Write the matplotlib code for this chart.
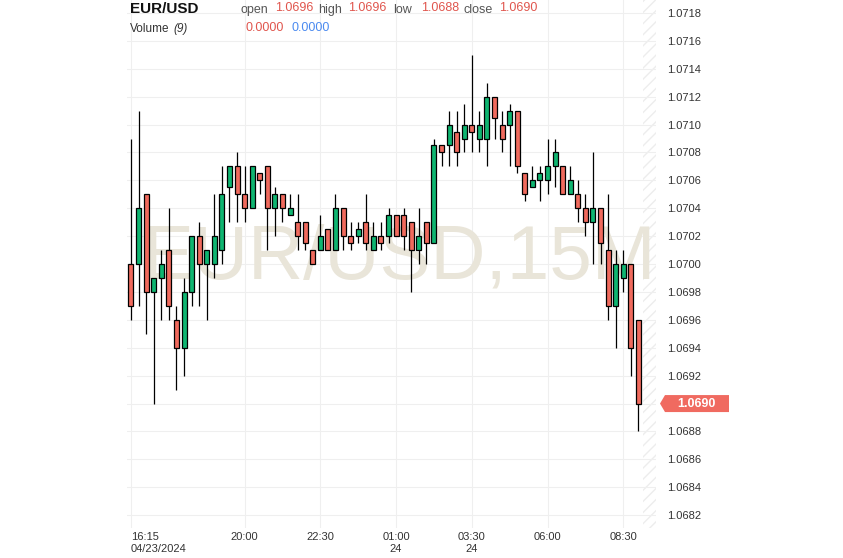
import matplotlib.pyplot as plt
from matplotlib.patches import Polygon
from matplotlib.transforms import IdentityTransform
import numpy as np

plt.rcParams['font.family'] = ['Liberation Sans', 'DejaVu Sans']

# EUR/USD 15 minute candles, 04/23 16:15 -> 04/24 09:00
opens = [1.0700, 1.0700, 1.0705, 1.0698, 1.0699, 1.0701, 1.0696, 1.0694, 1.0698, 1.0702,
         1.0700, 1.0700, 1.0701, 1.07055, 1.0707, 1.0705, 1.0704, 1.07065, 1.0707, 1.0704,
         1.0705, 1.07035, 1.0703, 1.0703, 1.0701, 1.0701, 1.07025, 1.0701, 1.0704, 1.0702,
         1.0702, 1.0703, 1.0701, 1.0702, 1.0702, 1.07035, 1.07035, 1.0703, 1.0701, 1.0703,
         1.07015, 1.07085, 1.07085, 1.07095, 1.0709, 1.0710, 1.0709, 1.0709, 1.0712, 1.0710,
         1.0710, 1.0711, 1.07065, 1.07055, 1.0706, 1.0706, 1.0707, 1.0707, 1.0705, 1.0705,
         1.0704, 1.0703, 1.0704, 1.0701, 1.0697, 1.0699, 1.0700, 1.0696]
highs = [1.0709, 1.0711, 1.0705, 1.0699, 1.0701, 1.0704, 1.0697, 1.0699, 1.0702, 1.0703,
         1.0701, 1.0705, 1.0707, 1.0707, 1.0708, 1.0707, 1.0707, 1.07065, 1.0707, 1.07055,
         1.0705, 1.0705, 1.0705, 1.0703, 1.0701, 1.07035, 1.07025, 1.0705, 1.0704, 1.0703,
         1.0703, 1.0705, 1.0703, 1.0703, 1.0704, 1.07035, 1.0704, 1.0703, 1.0704, 1.0703,
         1.0709, 1.07085, 1.0711, 1.0711, 1.07115, 1.0715, 1.0711, 1.0713, 1.0712, 1.0711,
         1.07115, 1.0711, 1.07065, 1.0707, 1.0707, 1.0709, 1.0709, 1.0707, 1.0707, 1.0706,
         1.0705, 1.0708, 1.0704, 1.0705, 1.0701, 1.0701, 1.0700, 1.0696]
lows = [1.0696, 1.0697, 1.0695, 1.0690, 1.0696, 1.0696, 1.0691, 1.0692, 1.0697, 1.0697,
        1.0696, 1.0699, 1.0700, 1.0703, 1.0703, 1.0703, 1.0704, 1.0705, 1.0701, 1.0702,
        1.0703, 1.07035, 1.0701, 1.0701, 1.0700, 1.0701, 1.0701, 1.0701, 1.0701, 1.0701,
        1.07015, 1.0701, 1.0701, 1.0701, 1.07015, 1.0702, 1.0701, 1.0698, 1.0700, 1.0700,
        1.07015, 1.0707, 1.0707, 1.0707, 1.0708, 1.0708, 1.0708, 1.0707, 1.0709, 1.0708,
        1.0707, 1.07065, 1.07045, 1.07055, 1.07045, 1.0705, 1.07055, 1.0705, 1.0705, 1.0703,
        1.0702, 1.0700, 1.0700, 1.0696, 1.0694, 1.0698, 1.0692, 1.0688]
closes = [1.0697, 1.0704, 1.0698, 1.0699, 1.0700, 1.0697, 1.0694, 1.0698, 1.0702, 1.0700,
          1.0701, 1.0702, 1.0705, 1.0707, 1.0705, 1.0704, 1.0707, 1.0706, 1.0704, 1.0705,
          1.0704, 1.0704, 1.0702, 1.07015, 1.0700, 1.0702, 1.0701, 1.0704, 1.0702, 1.07015,
          1.07025, 1.07015, 1.0702, 1.07015, 1.07035, 1.0702, 1.0702, 1.0701, 1.0702, 1.07015,
          1.07085, 1.0708, 1.0710, 1.0708, 1.0710, 1.07095, 1.0710, 1.0712, 1.07105, 1.0709,
          1.0711, 1.0707, 1.0705, 1.0706, 1.07065, 1.0707, 1.0708, 1.0705, 1.0706, 1.0704,
          1.0703, 1.0704, 1.07015, 1.0697, 1.0700, 1.0700, 1.0694, 1.0690]
volume = [0.0, 0.0]

time_ticks = [0, 15, 25, 35, 45, 55, 65]
time_labels = ['16:15\n04/23/2024', '20:00', '22:30', '01:00\n24', '03:30\n24', '06:00', '08:30']
price_ticks = [1.0682, 1.0684, 1.0686, 1.0688, 1.0690, 1.0692, 1.0694, 1.0696, 1.0698, 1.0700,
               1.0702, 1.0704, 1.0706, 1.0708, 1.0710, 1.0712, 1.0714, 1.0716, 1.0718]

green = '#0fb571'
red = '#f06a5d'

W, H = 843, 558
fig = plt.figure(figsize=(W / 100, H / 100), dpi=100)
ax = fig.add_axes([127 / W, 30 / H, (656 - 127) / W, 528 / H])

o = np.array(opens)
h = np.array(highs)
l = np.array(lows)
c = np.array(closes)
x = np.arange(len(o))
cols = np.where(c >= o, green, red)

ax.text(0.515, 0.51, 'EUR/USD,15M', transform=ax.transAxes, fontsize=55,
        color='#e9e5d9', ha='center', va='center', zorder=1, clip_on=True)

ax.vlines(x, l, h, color='black', linewidth=0.9, zorder=3)
ax.bar(x, np.maximum(np.abs(c - o), 0.00002), width=0.66, bottom=np.minimum(o, c),
       color=cols, edgecolor='black', linewidth=0.9, zorder=4)

ax.set_xlim(-0.528, 69.32)
ax.set_ylim(1.068108, 1.071893)

# hatched area right of the last bar
ax.axvspan(67.6, 69.32, facecolor='none', edgecolor='#ededed', hatch='///', linewidth=0, zorder=0)

ax.set_xticks(time_ticks)
ax.set_xticklabels(time_labels)
ax.get_xticklabels()[0].set_horizontalalignment('left')
ax.set_yticks(price_ticks)
# the last price tag covers its own tick label
ax.set_yticklabels(['' if abs(p - c[-1]) < 1e-6 else '%.4f' % p for p in price_ticks])
ax.yaxis.tick_right()
ax.tick_params(axis='y', length=0, pad=8, labelsize=8, labelcolor='#333333')
ax.tick_params(axis='x', length=0, pad=3, labelsize=8, labelcolor='#333333')
ax.grid(color='#efefef', linewidth=0.8)
ax.set_axisbelow(True)
for s in ax.spines.values():
    s.set_visible(False)

# last price tag
y_pix = ax.transData.transform((0, c[-1]))[1]
x0 = ax.transAxes.transform((1, 0))[0]
tag = Polygon([(x0 + 4, y_pix), (x0 + 9, y_pix + 8.5), (x0 + 73, y_pix + 8.5),
               (x0 + 73, y_pix - 8.5), (x0 + 9, y_pix - 8.5)],
              closed=True, transform=IdentityTransform(), facecolor='#f06a60', edgecolor='none')
fig.add_artist(tag)
fig.text((x0 + 40) / W, y_pix / H, '%.4f' % c[-1], color='white', fontsize=9,
         fontweight='bold', ha='center', va='center')

# header
def fx(p):
    return p / W

def fy(p):
    return 1 - p / H

fig.text(fx(130), fy(9), 'EUR/USD', fontsize=11, fontweight='bold', color='#111111', va='center')
labels = ['open', 'high', 'low', 'close']
vals = [o[-1], h[-1], l[-1], c[-1]]
lab_x = [240, 318, 393, 464]
val_x = [275, 348, 421, 499]
for lab, v, lx, vx in zip(labels, vals, lab_x, val_x):
    fig.text(fx(lx), fy(10), lab, fontsize=9, color='#555555', va='center')
    fig.text(fx(vx), fy(8), '%.4f' % v, fontsize=9, color='#e0554d', va='center')

fig.text(fx(130), fy(29), 'Volume', fontsize=8.5, color='#333333', va='center')
fig.text(fx(173), fy(29), '(9)', fontsize=8.5, color='#333333', va='center', style='italic')
fig.text(fx(246), fy(28), '%.4f' % volume[0], fontsize=9, color='#e0554d', va='center')
fig.text(fx(291), fy(28), '%.4f' % volume[1], fontsize=9, color='#4a8af0', va='center')

plt.savefig('out.png', dpi=100)
